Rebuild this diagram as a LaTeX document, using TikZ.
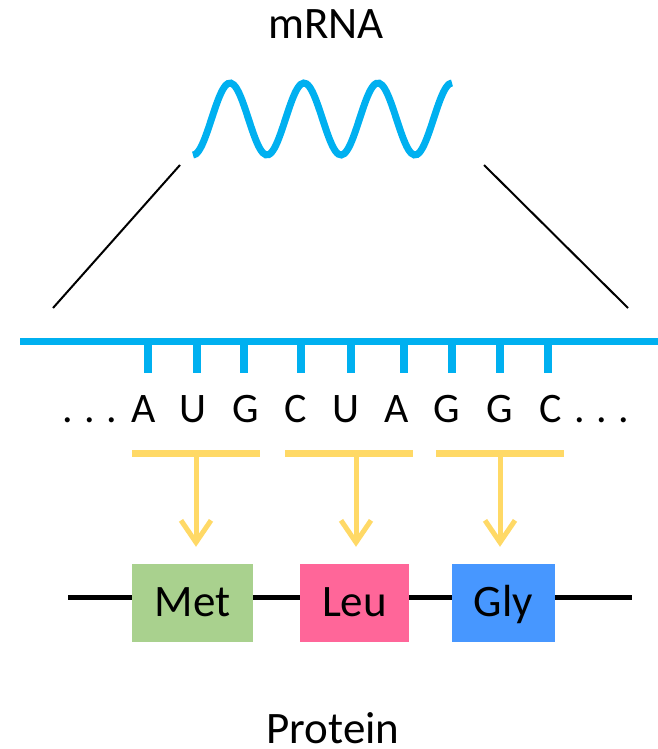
\documentclass[tikz,border=0pt]{standalone}
\usepackage{fontspec}
\setmainfont{Carlito}
\usetikzlibrary{arrows.meta}

\definecolor{rnablue}{HTML}{00B0F0}
\definecolor{codongold}{HTML}{FFD966}
\definecolor{metgreen}{HTML}{A9D18E}
\definecolor{leupink}{HTML}{FF6699}
\definecolor{glyblue}{HTML}{4797FF}

\begin{document}
\begin{tikzpicture}[x=1pt,y=-1pt,
  strand/.style={rnablue, line width=7pt},
  basetick/.style={rnablue, line width=8pt},
  basename/.style={font=\fontsize{42}{50}\selectfont, anchor=base, inner sep=0pt},
  title/.style={font=\fontsize{45}{54}\selectfont, anchor=base, inner sep=0pt},
  codon/.style={fill=codongold, minimum width=128pt, minimum height=7pt, inner sep=0pt},
  translate/.style={draw=codongold, line width=5pt,
    -{Straight Barb[length=22pt, width=30pt]}, shorten >=17pt},
  residue/.style={minimum height=78pt, inner sep=0pt,
    font=\fontsize{45}{54}\selectfont, text height=31pt, text depth=5pt},
  chain/.style={line width=5pt},
  zoomline/.style={line width=2pt}
]
\useasboundingbox (0,0) rectangle (658,749);

% mRNA overview
\node[title] (mrna) at (326,39) {mRNA};
\draw[rnablue, line width=7pt]
  plot[smooth, samples=90, domain=193:452] (\x, {119 - 36*cos((\x-230)*4.86486)});

% zoom-in lines
\draw[zoomline] (180,165) -- (53,308);
\draw[zoomline] (484,165) -- (628,308);

% strand with bases
\draw[strand] (20,341) -- (658,341);
\foreach \tx in {148,197,244,301,351,404,452,500,548}
  \draw[basetick] (\tx,341) -- (\tx,373);

\node[basename] (ldots) at (89.5,422) {.\hspace{11.4pt}.\hspace{11.4pt}.};
\node[basename] (rdots) at (601.5,422) {.\hspace{11.4pt}.\hspace{11.4pt}.};
\foreach \bx/\bl [count=\i] in {144/A,193/U,246/G,296/C,346/U,397/A,447/G,500/G,551/C}
  \node[basename] (b\i) at (\bx,422) {\bl};

% codons
\node[codon] (c1) at (196,453) {};
\node[codon] (c2) at (349,453) {};
\node[codon] (c3) at (500,453) {};

% amino acid chain
\coordinate (nterm) at (68,597);
\coordinate (cterm) at (632,597);
\node[residue, fill=metgreen, minimum width=121pt] (met) at (192.5,603) {Met};
\node[residue, fill=leupink, minimum width=109pt] (leu) at (354.5,603) {Leu};
\node[residue, fill=glyblue, minimum width=103pt] (gly) at (503.5,603) {Gly};

\draw[chain] (nterm) -- (nterm -| met.west)
  (met.east |- nterm) -- (leu.west |- nterm)
  (leu.east |- nterm) -- (gly.west |- nterm)
  (gly.east |- nterm) -- (cterm);

% translation arrows
\draw[translate] (c1) -- (c1 |- met.north);
\draw[translate] ([xshift=7pt]c2.south) -- ([xshift=7pt]c2.south |- leu.north);
\draw[translate] (c3) -- (c3 |- gly.north);

\node[title] (protein) at (333,743) {Protein};
\end{tikzpicture}
\end{document}
